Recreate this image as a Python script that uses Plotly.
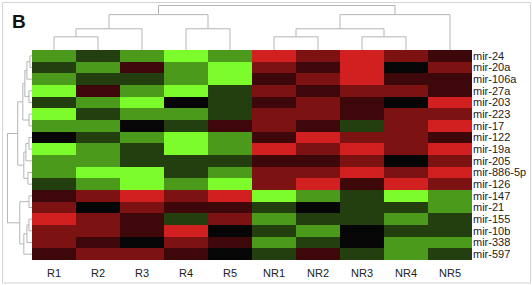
import plotly.graph_objects as go

W, H = 532, 285

# ---------------- data ----------------
samples = ["R1", "R2", "R3", "R4", "R5", "NR1", "NR2", "NR3", "NR4", "NR5"]
mirnas = ["mir-24", "mir-20a", "mir-106a", "mir-27a", "mir-203", "mir-223", "mir-17",
          "mir-122", "mir-19a", "mir-205", "mir-886-5p", "mir-126", "mir-147", "mir-21",
          "mir-155", "mir-10b", "mir-338", "mir-597"]

# expression level (red positive, green negative)
expr = [
    [-2, -1, -2, -3, -2,   3,  2,  3,  2,  1],   # mir-24
    [-1, -2,  1, -2, -3,   2,  1,  3,  0,  2],   # mir-20a
    [-2, -1, -1, -2, -3,   1,  2,  3,  1,  1],   # mir-106a
    [-3,  1, -2, -3, -1,   2,  1,  2,  2,  1],   # mir-27a
    [-1, -2, -3,  0, -1,   1,  2,  1,  0,  3],   # mir-203
    [-3, -1, -2, -2, -1,   2,  2,  1,  2,  2],   # mir-223
    [-2, -2,  0, -1,  1,   2,  1, -1,  2,  3],   # mir-17
    [ 0, -1, -2, -3, -2,   1,  3,  2,  2,  1],   # mir-122
    [-3, -2, -1, -3, -2,   3,  2,  3,  2,  3],   # mir-19a
    [-2, -2, -1, -1, -1,   1,  1,  2,  0,  2],   # mir-205
    [-2, -3, -3, -1, -2,   2,  2,  3,  2,  3],   # mir-886-5p
    [-1, -2, -3, -2, -3,   2,  3,  1,  3,  2],   # mir-126
    [ 1,  2,  3,  2,  3,  -3, -2, -1, -3, -2],   # mir-147
    [ 2,  0,  2,  1,  1,  -1,  0, -1, -1, -2],   # mir-21
    [ 3,  2,  1, -1,  2,  -2, -1, -1, -2, -1],   # mir-155
    [ 2,  2,  1,  3,  0,  -1, -2,  0, -1, -1],   # mir-10b
    [ 2,  1,  0,  2,  1,  -2, -1,  0, -2, -2],   # mir-338
    [ 1,  2,  2,  1,  0,  -1,  1, -1, -2, -1],   # mir-597
]

level_colors = ["#7CFC2A", "#4C9A1C", "#233F0F", "#060606", "#3E0709", "#7D1213", "#D21F20"]

# column dendrogram merges: (left node, right node, height); leaves 0..9, new nodes 10..
col_merges = [
    (0, 1, 13), (10, 2, 21), (3, 4, 21), (11, 12, 35),
    (5, 6, 13), (7, 8, 13), (14, 15, 21), (16, 9, 35),
    (13, 17, 44),
]
# row dendrogram merges; leaves 0..17, new nodes 18..
row_merges = [
    (0, 1, 2), (18, 2, 5), (3, 4, 3), (19, 20, 7), (5, 6, 3), (21, 22, 9),
    (7, 8, 3), (24, 9, 6), (10, 11, 4), (25, 26, 8), (23, 27, 14),
    (12, 13, 3), (14, 15, 3), (30, 16, 5), (31, 17, 8), (29, 32, 12),
    (28, 33, 24),
]


def dendro_segments(n_leaves, merges):
    pos = {i: float(i) for i in range(n_leaves)}
    hgt = {i: 0.0 for i in range(n_leaves)}
    P, Hs = [], []
    nid = n_leaves
    for a, b, h in merges:
        P += [pos[a], pos[a], pos[b], pos[b], None]
        Hs += [hgt[a], h, h, hgt[b], None]
        pos[nid] = (pos[a] + pos[b]) / 2
        hgt[nid] = h
        nid += 1
    return P, Hs


def X(px):
    return px / W


def Y(px):
    return 1 - px / H


# discrete colour scale for values -3..3
n = len(level_colors)
cs = []
for k, c in enumerate(level_colors):
    cs.append([k / n, c])
    cs.append([(k + 1) / n, c])

fig = go.Figure()

fig.add_trace(go.Heatmap(
    z=expr, x=samples, y=mirnas, colorscale=cs, zmin=-3.5, zmax=3.5,
    showscale=False, xgap=0, ygap=0, xaxis="x", yaxis="y",
))

cp, ch = dendro_segments(len(samples), col_merges)
fig.add_trace(go.Scatter(x=cp, y=ch, mode="lines", line=dict(color="#b5b5b5", width=1),
                         xaxis="x2", yaxis="y2", hoverinfo="skip", showlegend=False))

rp, rh = dendro_segments(len(mirnas), row_merges)
fig.add_trace(go.Scatter(x=rh, y=rp, mode="lines", line=dict(color="#b5b5b5", width=1),
                         xaxis="x3", yaxis="y3", hoverinfo="skip", showlegend=False))

font_family = "Liberation Sans, Arial, sans-serif"

fig.update_layout(
    width=W, height=H, autosize=False,
    margin=dict(l=0, r=0, t=0, b=0, pad=0),
    paper_bgcolor="white", plot_bgcolor="white",
    font=dict(family=font_family, color="#222222"),
    xaxis=dict(domain=[X(32), X(472)], showgrid=False, zeroline=False, showline=False,
               ticks="outside", ticklen=3, tickcolor="rgba(0,0,0,0)",
               tickmode="array", tickvals=samples, ticktext=samples,
               tickfont=dict(size=11, family=font_family, color="#222222")),
    yaxis=dict(domain=[Y(260), Y(50)], autorange="reversed", side="right",
               showgrid=False, zeroline=False, showline=False, ticks="",
               tickmode="array", tickvals=mirnas, ticktext=mirnas,
               tickfont=dict(size=11, family=font_family, color="#222222")),
    xaxis2=dict(domain=[X(32), X(472)], anchor="y2", range=[-0.5, len(samples) - 0.5],
                visible=False),
    yaxis2=dict(domain=[Y(50), Y(5)], anchor="x2", range=[0, 44.5], visible=False),
    xaxis3=dict(domain=[X(7), X(32)], anchor="y3", range=[24.5, 0], visible=False),
    yaxis3=dict(domain=[Y(260), Y(50)], anchor="x3", range=[len(mirnas) - 0.5, -0.5],
                visible=False),
    shapes=[dict(type="rect", xref="paper", yref="paper",
                 x0=X(2.5), x1=X(530.5), y0=Y(283), y1=Y(2.5),
                 line=dict(color="#d4d4d4", width=1), fillcolor="rgba(0,0,0,0)")],
    annotations=[dict(text="<b>B</b>", x=X(19), y=Y(21.5), xref="paper", yref="paper",
                      xanchor="center", yanchor="middle",
                      showarrow=False, font=dict(size=19, family=font_family, color="#111111"))],
)

fig.write_html("out.html")
